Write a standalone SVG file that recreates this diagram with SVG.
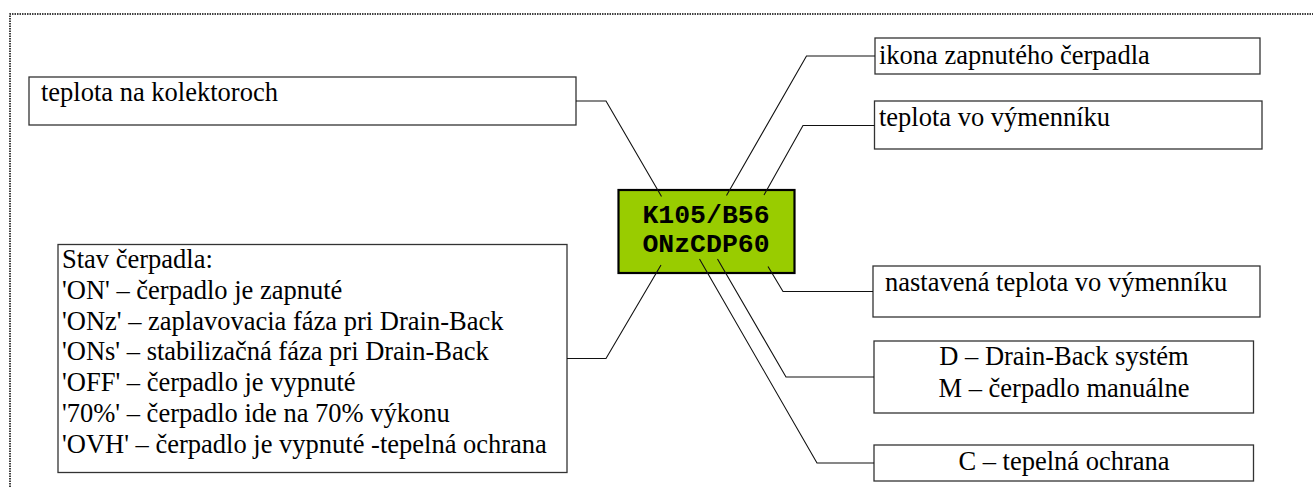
<svg xmlns="http://www.w3.org/2000/svg" width="1313" height="487" viewBox="0 0 1313 487">
<style>
.box{fill:#fff;stroke:#333;stroke-width:1.3}
.t{font-family:"Liberation Serif","Times New Roman",serif;font-size:26.5px;fill:#000}
.c{text-anchor:middle}
.lcd{font-family:"Liberation Mono","Courier New",monospace;font-weight:bold;font-size:26.5px;fill:#000;text-anchor:middle}
.conn{fill:none;stroke:#111;stroke-width:1.1}
</style>
<rect width="1313" height="487" fill="#fff"/>
<path d="M10,487 V14 H1313" fill="none" stroke="#000" stroke-width="1.5" stroke-dasharray="1.5 1"/>
<g id="lcd">
<rect x="618.5" y="190" width="176" height="83" fill="#99cc00" stroke="#000" stroke-width="2.2"/>
<text class="lcd" x="706" y="223">K105/B56</text>
<text class="lcd" x="706" y="252">ONzCDP60</text>
</g>
<g id="n-kolektor">
<rect class="box" x="29" y="77" width="547" height="48"/>
<text class="t" x="41" y="101">teplota na kolektoroch</text>
</g>
<g id="n-ikona">
<rect class="box" x="875" y="38" width="385" height="36"/>
<text class="t" x="879" y="64">ikona zapnutého čerpadla</text>
</g>
<g id="n-vymennik">
<rect class="box" x="874.5" y="101" width="387.5" height="48"/>
<text class="t" x="879" y="126">teplota vo výmenníku</text>
</g>
<g id="n-nastavena">
<rect class="box" x="873" y="266" width="387" height="51"/>
<text class="t" x="885" y="291">nastavená teplota vo výmenníku</text>
</g>
<g id="n-drainback">
<rect class="box" x="874" y="341" width="379.5" height="72"/>
<text class="t c" x="1064" y="365">D – Drain-Back systém</text>
<text class="t c" x="1064" y="397">M – čerpadlo manuálne</text>
</g>
<g id="n-ochrana">
<rect class="box" x="874" y="445" width="379.5" height="36"/>
<text class="t c" x="1064" y="470">C – tepelná ochrana</text>
</g>
<g id="n-stav">
<rect class="box" x="58" y="244.5" width="509" height="228"/>
<text class="t" x="62" y="268">Stav čerpadla:</text>
<text class="t" x="62" y="299">'ON' – čerpadlo je zapnuté</text>
<text class="t" x="62" y="330">'ONz' – zaplavovacia fáza pri Drain-Back</text>
<text class="t" x="62" y="360">'ONs' – stabilizačná fáza pri Drain-Back</text>
<text class="t" x="62" y="391">'OFF' – čerpadlo je vypnuté</text>
<text class="t" x="62" y="422">'70%' – čerpadlo ide na 70% výkonu</text>
<text class="t" x="62" y="453">'OVH' – čerpadlo je vypnuté -tepelná ochrana</text>
</g>
<g id="connectors">
<polyline class="conn" points="576,101 606,101 661.5,196.5"/>
<polyline class="conn" points="875,56 806.5,56 726.5,195.5"/>
<polyline class="conn" points="874.5,125.5 803,125.5 764,195"/>
<polyline class="conn" points="873,291.5 783,291.5 768,266.5"/>
<polyline class="conn" points="874,377 786,377 717.5,259"/>
<polyline class="conn" points="874,463 817,463 699.5,259"/>
<polyline class="conn" points="567,358.5 606,358.5 661,265"/>
</g>
</svg>
